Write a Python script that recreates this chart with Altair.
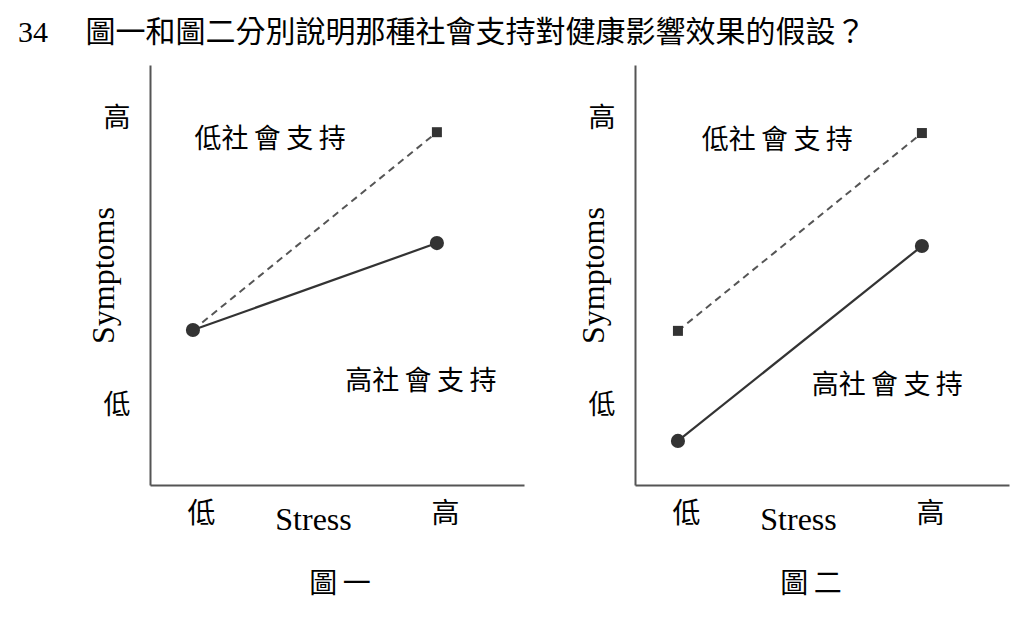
import altair as alt
import pandas as pd

SERIF = "Liberation Serif, Noto Sans CJK TC"
CJK = "Noto Sans CJK TC"

# ---- data ----
stress_levels = [0, 1]                 # 低, 高
x_tick_values = [0, 1]
x_tick_labels = ["低", "高"]

p1_high_support = [3.69, 5.76]         # solid line, circles
p1_low_support = [3.69, 8.40]          # dashed line, squares
p2_high_support = [1.05, 5.69]
p2_low_support = [3.67, 8.38]

y_label_values = [8.72, 1.87]
y_label_texts = ["高", "低"]

annot_texts = ["低社\u2009會\u2009支\u2009持", "高社\u2009會\u2009支\u2009持"]
p1_annot_x = [0.316, 0.934]
p1_annot_y = [8.21, 2.45]
p2_annot_x = [0.407, 0.858]
p2_annot_y = [8.19, 2.36]

captions = ["圖\u2009一", "圖\u2009二"]
main_title = "34\u2003\u2005圖一和圖二分別說明那種社會支持對健康影響效果的假設？"

xs = alt.Scale(domain=[-0.176, 1.357], nice=False, zero=False)
ys = alt.Scale(domain=[0, 10], nice=False, zero=False)

label_expr = (f"datum.value == {x_tick_values[0]} ? '{x_tick_labels[0]}' : "
              f"'{x_tick_labels[1]}'")


def make_panel(high_vals, low_vals, ann_x, ann_y, caption, cap_dx, sym_dx):
    xaxis = alt.Axis(values=x_tick_values, labelExpr=label_expr, ticks=False,
                     grid=False, domainColor="#555", domainWidth=2,
                     labelFont=CJK, labelFontSize=28, labelColor="#000",
                     labelPadding=15, labelOffset=8,
                     title="Stress", titleFont=SERIF, titleFontSize=32,
                     titleFontWeight="normal", titleColor="#000",
                     titleX=163, titleY=44, titleAlign="center",
                     titleBaseline="alphabetic")
    yaxis = alt.Axis(values=[], labels=False, ticks=False, grid=False,
                     domainColor="#555", domainWidth=2,
                     title="Symptoms", titleFont=SERIF, titleFontSize=32,
                     titleFontWeight="normal", titleColor="#000",
                     titleAngle=270, titleX=sym_dx, titleY=210,
                     titleAlign="center", titleBaseline="middle")
    X = alt.X("stress:Q", scale=xs, axis=xaxis)
    Y = alt.Y("symptoms:Q", scale=ys, axis=yaxis)

    hi = pd.DataFrame({"stress": stress_levels, "symptoms": high_vals})
    lo = pd.DataFrame({"stress": stress_levels, "symptoms": low_vals})
    ann = pd.DataFrame({"stress": ann_x, "symptoms": ann_y, "t": annot_texts})
    ylab = pd.DataFrame({"symptoms": y_label_values, "t": y_label_texts})

    dashed = alt.Chart(lo).mark_line(color="#555", strokeWidth=2,
                                     strokeDash=[7, 5]).encode(x=X, y=Y)
    solid = alt.Chart(hi).mark_line(color="#333", strokeWidth=2.2).encode(x=X, y=Y)
    squares = alt.Chart(lo).mark_point(shape="square", filled=True, size=100,
                                       color="#333", opacity=1).encode(x=X, y=Y)
    circles = alt.Chart(hi).mark_circle(size=200, color="#333",
                                        opacity=1).encode(x=X, y=Y)
    texts = alt.Chart(ann).mark_text(font=CJK, fontSize=27, color="#000",
                                     align="center", baseline="middle"
                                     ).encode(x=X, y=Y, text="t:N")
    ylabels = alt.Chart(ylab).mark_text(font=CJK, fontSize=27, color="#000",
                                        align="center", baseline="middle"
                                        ).encode(x=alt.value(-33), y=Y, text="t:N")
    return alt.layer(dashed, solid, squares, circles, texts, ylabels).properties(
        width=374, height=420,
        title=alt.TitleParams(caption, orient="bottom", anchor="middle",
                              font=CJK, fontSize=28, fontWeight="normal",
                              color="#000", offset=36, dx=cap_dx))


p1 = make_panel(p1_high_support, p1_low_support, p1_annot_x, p1_annot_y,
                captions[0], 3, -47)
p2 = make_panel(p2_high_support, p2_low_support, p2_annot_x, p2_annot_y,
                captions[1], -11, -42)

chart = alt.hconcat(p1, p2, spacing=111, bounds="flush").properties(
    title=alt.TitleParams(main_title, anchor="start", frame="group",
                          font=SERIF, fontSize=30, fontWeight="normal",
                          color="#000", dx=-132, offset=17),
    padding={"left": 10, "top": 10, "right": 5, "bottom": 5},
).configure(background="white", view=alt.ViewConfig(stroke=None))

chart.save("out.html", embed_options={"renderer": "svg", "actions": False})
